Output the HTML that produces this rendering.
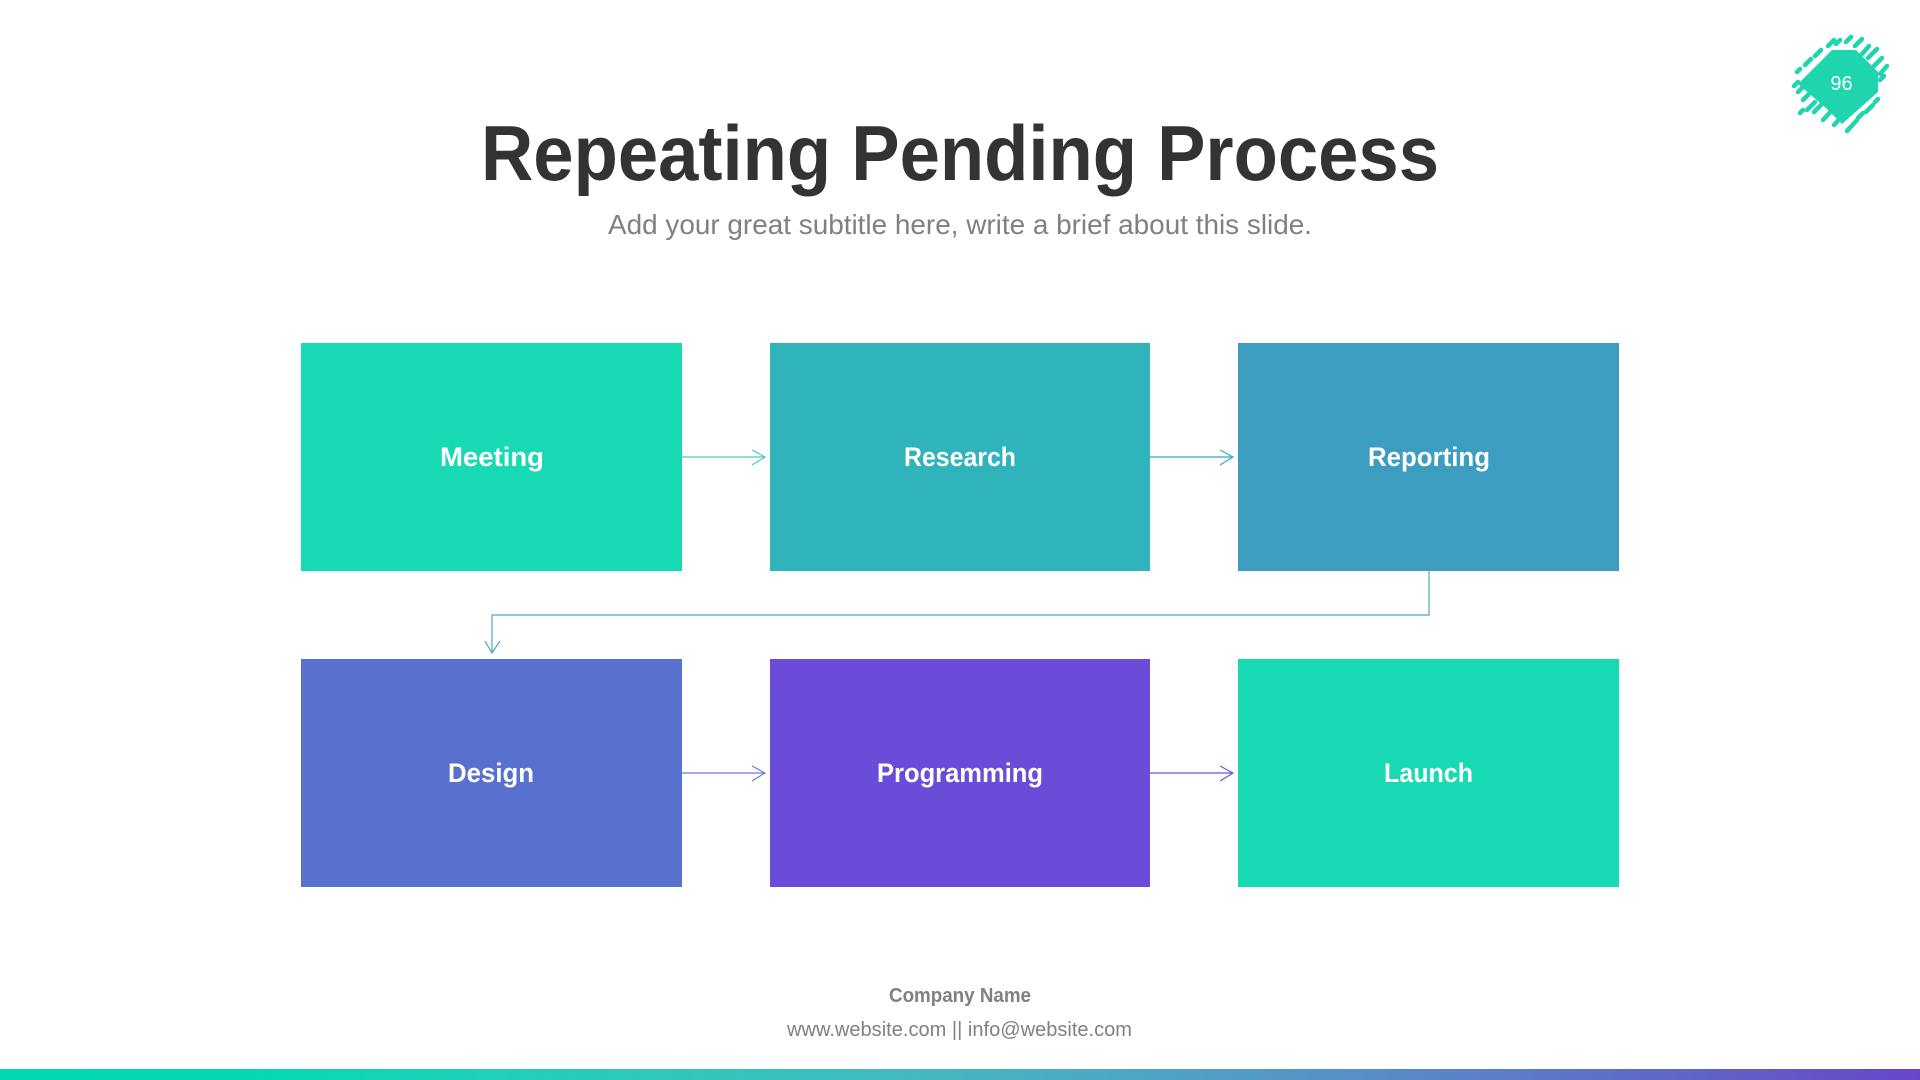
<!DOCTYPE html>
<html><head><meta charset="utf-8"><style>
html,body{margin:0;padding:0;background:#fff;width:1920px;height:1080px;overflow:hidden}
svg{display:block}
text{font-family:"Liberation Sans",sans-serif}
.l{font-size:27px;font-weight:700;fill:#fff}
</style></head><body>
<svg width="1920" height="1080" viewBox="0 0 1920 1080" xmlns="http://www.w3.org/2000/svg">
<defs><linearGradient id="g" x1="0" x2="1" y1="0" y2="0">
<stop offset="0" stop-color="#00d9b0"/><stop offset=".13" stop-color="#04d8b2"/><stop offset=".25" stop-color="#1fd0ba"/><stop offset=".4" stop-color="#38c2bd"/><stop offset=".5" stop-color="#45b5c0"/><stop offset=".62" stop-color="#50a0c5"/><stop offset=".75" stop-color="#5a85c8"/><stop offset=".88" stop-color="#6065c8"/><stop offset="1" stop-color="#6846c8"/>
</linearGradient></defs>
<rect width="1920" height="1080" fill="#fff"/>
<text x="481" y="180" font-size="78" font-weight="700" fill="#333" textLength="958" lengthAdjust="spacingAndGlyphs">Repeating Pending Process</text>
<text x="608" y="234" font-size="28" fill="#808080" textLength="704" lengthAdjust="spacingAndGlyphs">Add your great subtitle here, write a brief about this slide.</text>

<rect x="301" y="343" width="381" height="228" fill="#17dab2"/>
<rect x="770" y="343" width="380" height="228" fill="#2fb4bc"/>
<rect x="1238" y="343" width="381" height="228" fill="#3d9dc1"/>
<rect x="301" y="659" width="381" height="228" fill="#5871cf"/>
<rect x="770" y="659" width="380" height="228" fill="#6a4cd8"/>
<rect x="1238" y="659" width="381" height="228" fill="#17dab2"/>

<text class="l" x="440" y="466" textLength="104" lengthAdjust="spacingAndGlyphs">Meeting</text>
<text class="l" x="904" y="466" textLength="112" lengthAdjust="spacingAndGlyphs">Research</text>
<text class="l" x="1368" y="466" textLength="122" lengthAdjust="spacingAndGlyphs">Reporting</text>
<text class="l" x="448" y="782" textLength="86" lengthAdjust="spacingAndGlyphs">Design</text>
<text class="l" x="877" y="782" textLength="166" lengthAdjust="spacingAndGlyphs">Programming</text>
<text class="l" x="1384" y="782" textLength="89" lengthAdjust="spacingAndGlyphs">Launch</text>

<g fill="none" stroke-width="1.2">
<path d="M682 457H765M752 450L765 457L752 465" stroke="#45cfc0"/>
<path d="M1150 457H1233M1220 450L1233 457L1220 465" stroke="#38a9bf"/>
<path d="M1429 571V615H492V653M485 641L492 653L500 641" stroke="#4ea6c4"/>
<path d="M682 773H765M752 766L765 773L752 781" stroke="#6680d2"/>
<path d="M1150 773H1233M1220 766L1233 773L1220 781" stroke="#6f55d8"/>
</g>

<g fill="#1fd5ae" stroke="#1fd5ae" stroke-width="4.5" stroke-linecap="round">
<path stroke="none" d="M1798 84L1832 50L1856 50L1878 72L1878 92L1842 124L1826 108L1812 96Z"/>
<path fill="none" d="M1797 72L1800 69M1805 65L1811 59M1815 56L1821 50M1828 46L1834 40M1836 44L1840 40M1846 42L1851 37M1855 46L1862 39M1862 54L1869 46M1868 58L1877 49M1874 66L1882 58M1880 74L1887 66M1880 80L1884 76M1875 102L1878 99M1858 118L1863 113M1866 112L1873 105M1847 131L1857 120M1794 86L1798 82M1798 92L1806 84M1803 100L1817 86M1800 113L1803 110M1807 110L1815 102M1814 112L1824 102M1823 120L1834 108M1834 125L1842 116"/>
</g>
<text x="1841.5" y="90" font-size="20" font-weight="400" fill="#fff" text-anchor="middle">96</text>

<text x="889" y="1002" font-size="20" font-weight="700" fill="#808080" textLength="142" lengthAdjust="spacingAndGlyphs">Company Name</text>
<text x="787" y="1036" font-size="20" fill="#808080" textLength="345" lengthAdjust="spacingAndGlyphs">www.website.com || info@website.com</text>
<rect x="0" y="1069" width="1920" height="11" fill="url(#g)"/>
</svg>
</body></html>
